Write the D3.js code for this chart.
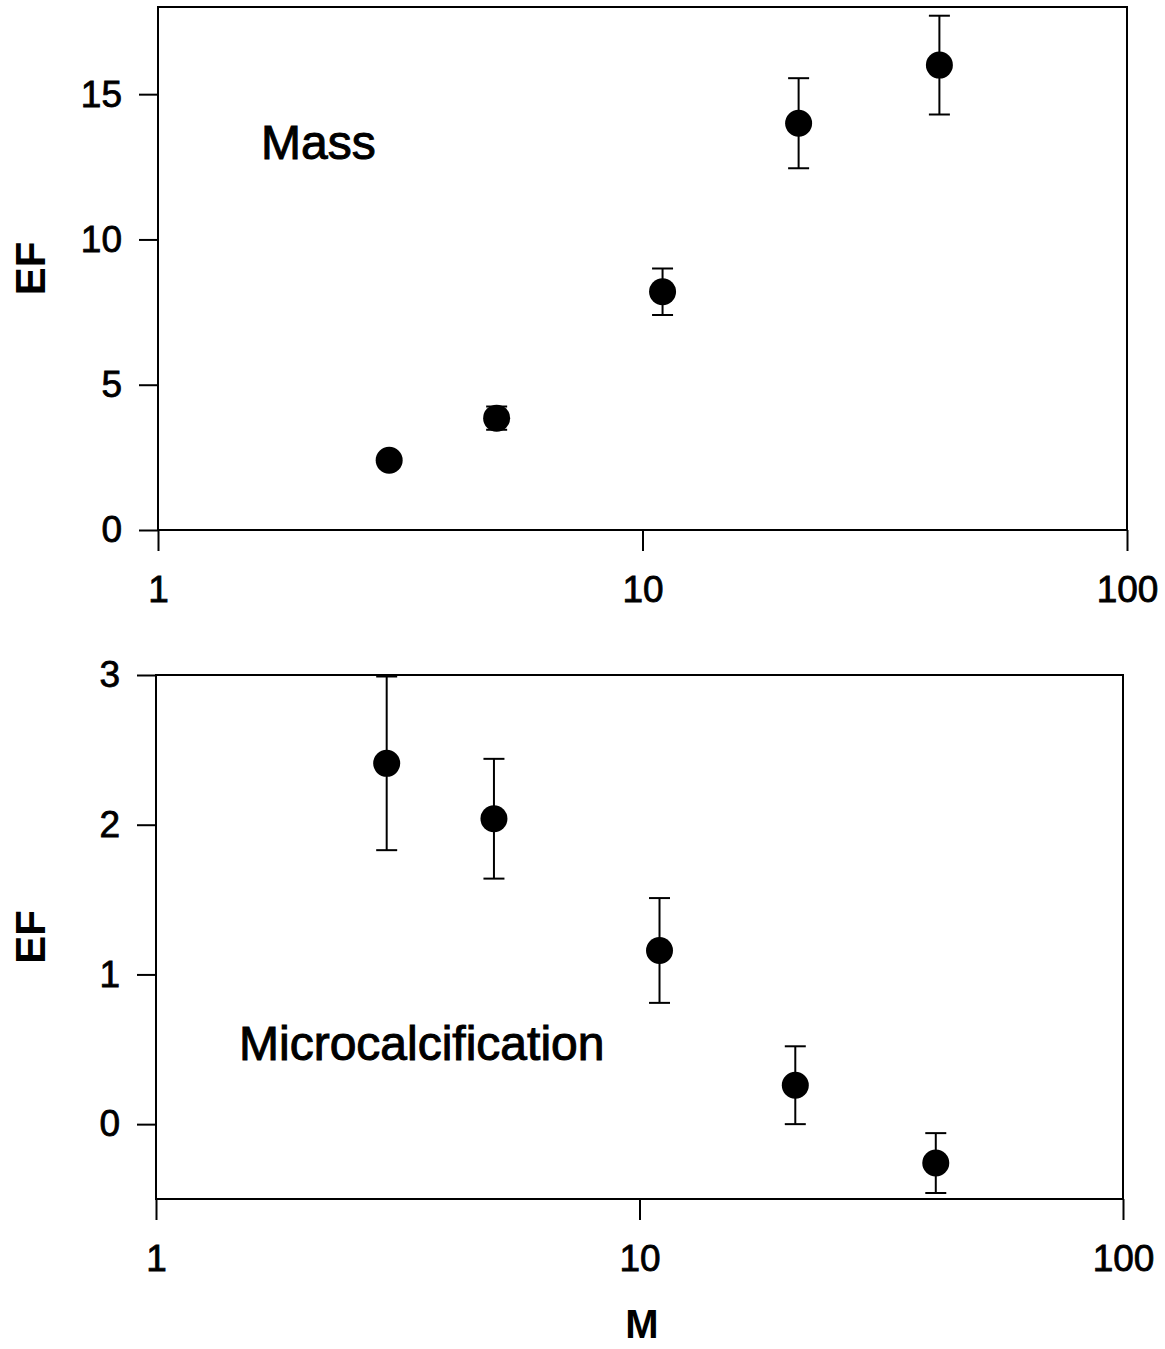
<!DOCTYPE html>
<html>
<head>
<meta charset="utf-8">
<script src="https://cdn.jsdelivr.net/npm/d3@7"></script>
<style>
  body { margin: 0; background: #fff; }
  svg text { font-family: "Liberation Sans", Arial, sans-serif; fill: #000; }
</style>
</head>
<body>
<div id="chart"></div>
<script>
// M values shared by both panels
var mValues = [3, 5, 11, 21, 41]

// top panel: Mass
var massEF = [2.4, 3.85, 8.2, 14.0, 16.0]
var massErr = [0, 0.4, 0.8, 1.55, 1.7]
var massTicks = [0, 5, 10, 15]

// bottom panel: Microcalcification
var microEF = [2.41, 2.04, 1.16, 0.26, -0.26]
var microErr = [0.58, 0.4, 0.35, 0.26, 0.2]
var microTicks = [0, 1, 2, 3]

var xTicks = [1, 10, 100]

var width = 1165, height = 1349

var svg = d3.select("#chart").append("svg")
    .attr("width", width)
    .attr("height", height)

function panel(opts) {

    var x = d3.scaleLog().domain([1, 100]).range([opts.left, opts.right])
    var y = d3.scaleLinear().domain(opts.yDomain).range([opts.bottom, opts.top])

    var g = svg.append("g")

    // x axis
    var xa = g.append("g")
        .attr("transform", "translate(0," + opts.bottom + ")")
        .call(d3.axisBottom(x).tickValues(xTicks).tickFormat(d3.format("d")).tickSize(21).tickSizeOuter(0))
    xa.select(".domain").remove()
    xa.selectAll("line").attr("stroke", "#000").attr("stroke-width", 2)
    xa.selectAll("text").attr("y", 72).attr("dy", null)
        .attr("font-size", 37).attr("stroke", "#000").attr("stroke-width", 0.8)

    // y axis
    var ya = g.append("g")
        .attr("transform", "translate(" + opts.left + ",0)")
        .call(d3.axisLeft(y).tickValues(opts.yTicks).tickFormat(d3.format("d")).tickSize(19).tickPadding(17).tickSizeOuter(0))
    ya.select(".domain").remove()
    ya.selectAll("line").attr("stroke", "#000").attr("stroke-width", 2)
    ya.selectAll("text").attr("font-size", 37).attr("stroke", "#000").attr("stroke-width", 0.8)

    // frame
    g.append("rect")
        .attr("x", opts.left)
        .attr("y", opts.top)
        .attr("width", opts.right - opts.left)
        .attr("height", opts.bottom - opts.top)
        .attr("fill", "none")
        .attr("stroke", "#000")
        .attr("stroke-width", 2)

    var pts = opts.ef.map(function(d, i) {
        return { m: mValues[i], ef: d, err: opts.err[i] }
    })

    // error bars
    var eb = g.selectAll(".eb").data(pts.filter(function(d) { return d.err > 0 }))
        .enter().append("g").attr("class", "eb")
        .attr("stroke", "#000").attr("stroke-width", 2)

    eb.append("line")
        .attr("x1", function(d) { return x(d.m) })
        .attr("x2", function(d) { return x(d.m) })
        .attr("y1", function(d) { return y(d.ef + d.err) })
        .attr("y2", function(d) { return y(d.ef - d.err) })

    eb.append("line")
        .attr("x1", function(d) { return x(d.m) - 10.5 })
        .attr("x2", function(d) { return x(d.m) + 10.5 })
        .attr("y1", function(d) { return y(d.ef + d.err) })
        .attr("y2", function(d) { return y(d.ef + d.err) })

    eb.append("line")
        .attr("x1", function(d) { return x(d.m) - 10.5 })
        .attr("x2", function(d) { return x(d.m) + 10.5 })
        .attr("y1", function(d) { return y(d.ef - d.err) })
        .attr("y2", function(d) { return y(d.ef - d.err) })

    // points
    g.selectAll(".pt").data(pts)
        .enter().append("circle").attr("class", "pt")
        .attr("cx", function(d) { return x(d.m) })
        .attr("cy", function(d) { return y(d.ef) })
        .attr("r", 13.5)
        .attr("fill", "#000")

    // EF label
    g.append("text")
        .attr("transform", "translate(45," + ((opts.top + opts.bottom) / 2) + ") rotate(-90)")
        .attr("text-anchor", "middle")
        .attr("font-size", 42)
        .attr("font-weight", "bold")
        .text("EF")

    // panel annotation
    g.append("text")
        .attr("x", opts.labelX)
        .attr("y", opts.labelY)
        .attr("font-size", 48)
        .attr("stroke", "#000")
        .attr("stroke-width", 1)
        .text(opts.label)

}

panel({
    left: 158, right: 1127, top: 7, bottom: 530,
    yDomain: [0, 18], yTicks: massTicks,
    ef: massEF, err: massErr,
    label: "Mass", labelX: 261, labelY: 159
})

panel({
    left: 156, right: 1123, top: 675, bottom: 1199,
    yDomain: [-0.5, 3], yTicks: microTicks,
    ef: microEF, err: microErr,
    label: "Microcalcification", labelX: 239, labelY: 1060
})

// x axis title
svg.append("text")
    .attr("x", 642)
    .attr("y", 1338)
    .attr("text-anchor", "middle")
    .attr("font-size", 40)
    .attr("font-weight", "bold")
    .text("M")

</script>
</body>
</html>
